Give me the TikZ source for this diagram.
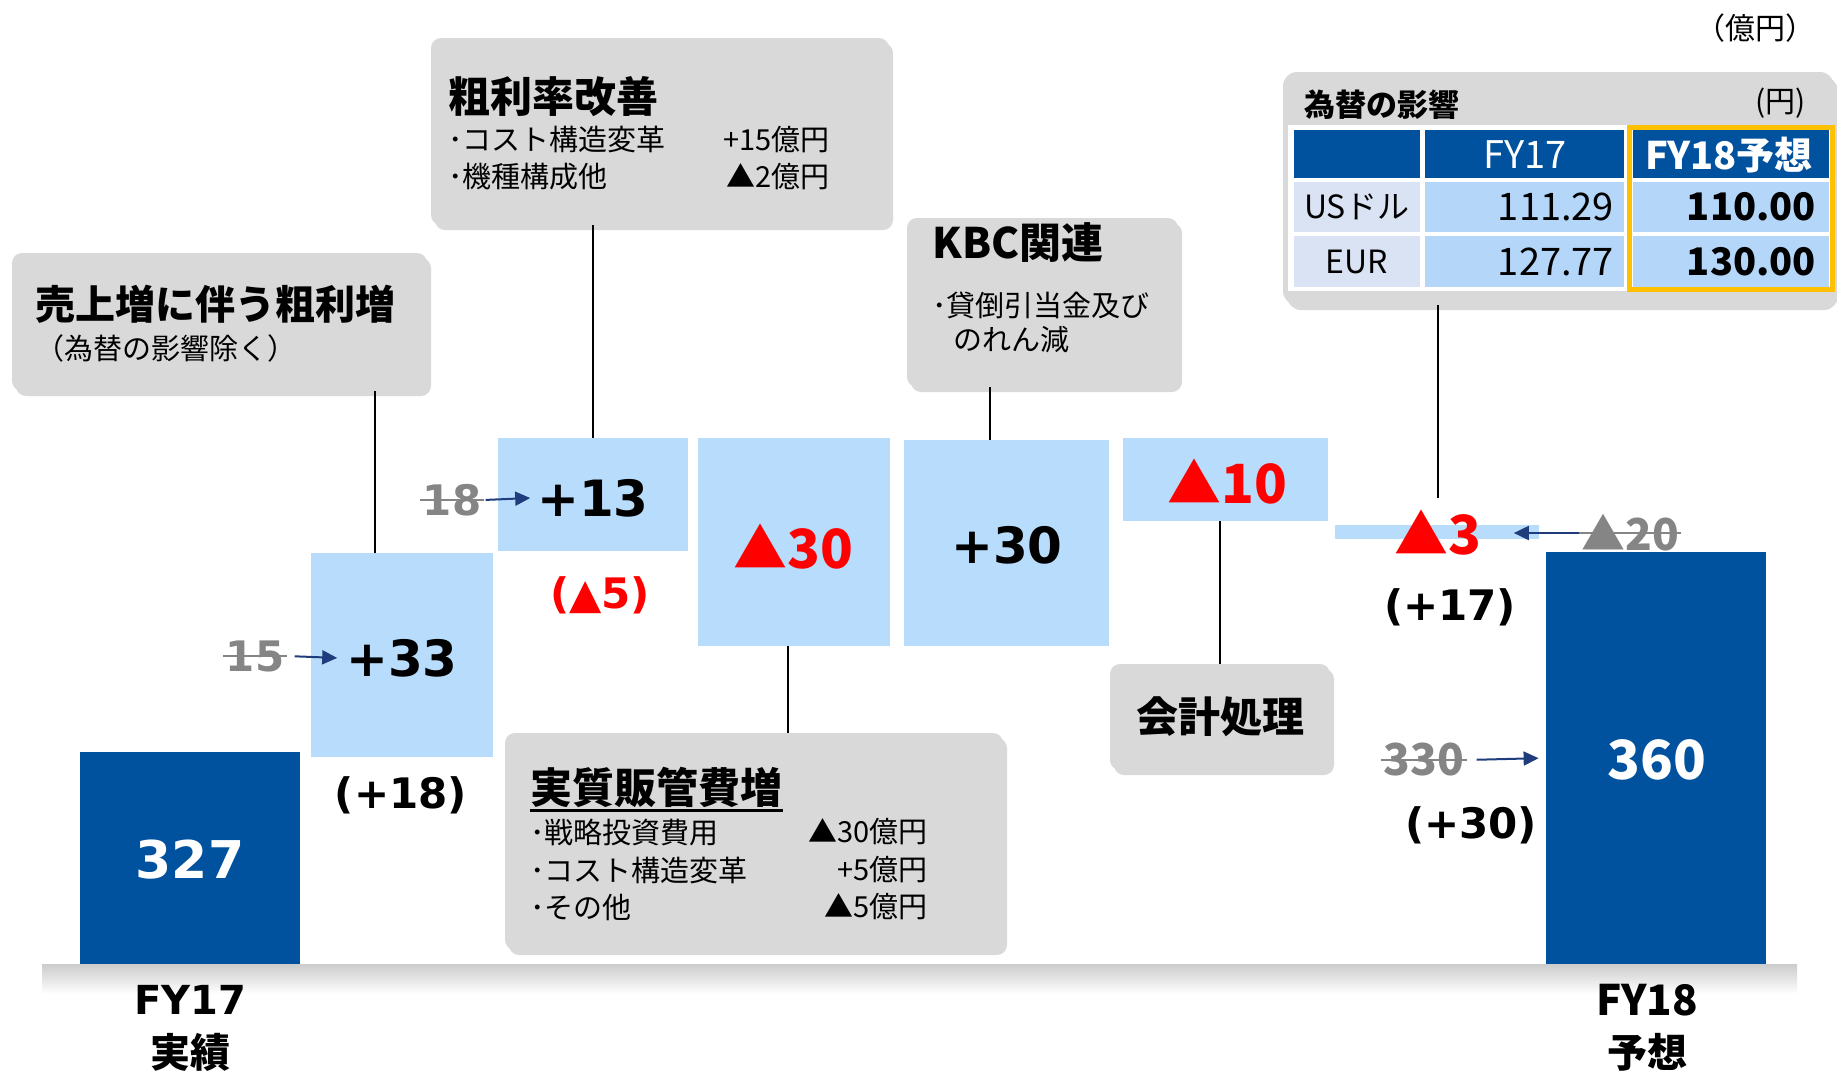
\documentclass[tikz,border=0pt]{standalone}
\usepackage{fontspec}
\setmainfont{Noto Sans CJK JP}
\newfontfamily\verd{DejaVu Sans}
\usetikzlibrary{arrows.meta,shadows,calc}
\definecolor{db}{HTML}{00519E}
\definecolor{lb}{HTML}{B8DCFB}
\definecolor{bgray}{HTML}{D9D9D9}
\definecolor{tgray}{HTML}{858585}
\definecolor{navy}{HTML}{1F3D7C}
\definecolor{pale}{HTML}{DAE3F3}
\definecolor{tb}{HTML}{B4D6F8}
\definecolor{ora}{HTML}{FFC000}
\definecolor{rd}{HTML}{FF0000}
\newcommand\fsz[1]{\fontsize{#1}{#1}\selectfont}

\begin{document}
\begin{tikzpicture}[x=0.5pt,y=-0.5pt,
	total/.style={fill=db, text=white, inner sep=0pt, minimum width=110pt},
	stepbar/.style={fill=lb, inner sep=0pt},
	callout/.style={fill=bgray, rounded corners=5pt, inner sep=0pt,
		drop shadow={shadow xshift=2pt, shadow yshift=-2.5pt, opacity=0.3}},
	conn/.style={line width=0.75pt},
	tip/.style={draw=navy, line width=1pt, -{Triangle[length=7.5pt,width=7pt]}},
	struck/.style={draw=tgray, line width=1.1pt},
	oldnum/.style={text=tgray, inner sep=1pt},
	ttl/.style={anchor=west, inner sep=0pt, font=\bfseries\fsz{21}},
	body/.style={anchor=west, inner sep=0pt, font=\fsz{14.5}},
	amt/.style={anchor=east, inner sep=0pt, font=\fsz{14.5}}]
	\useasboundingbox (0,0) rectangle (1837,1072);
	% base line
	\shade[top color=black!20, bottom color=white] (42,964) rectangle (1797,994);
	
	% bars
	\node[total, minimum height=106pt] (fy17) at (190,858) {};
	\node[stepbar, minimum width=91pt, minimum height=102pt] (b33) at (402,655) {};
	\node[stepbar, minimum width=95pt, minimum height=56.5pt] (b13) at (593,494.5) {};
	\node[stepbar, minimum width=96pt, minimum height=104pt] (b30m) at (794,542) {};
	\node[stepbar, minimum width=102.5pt, minimum height=103pt] (b30p) at (1006.5,543) {};
	\node[stepbar, minimum width=102.5pt, minimum height=41.5pt] (b10) at (1225.5,479.5) {};
	\node[stepbar, minimum width=102pt, minimum height=7pt] (b3) at (1437,532) {};
	\node[total, minimum height=206pt] (fy18) at (1656,758) {};
	
	% values
	\node[text=white, font=\verd\bfseries\fsz{26}] (n327) at (190,860) {327};
	\node[font=\verd\bfseries\fsz{25}] (n33) at (402,658) {+33};
	\node[font=\verd\bfseries\fsz{25}] (n13) at (593,498) {+13};
	\node[text=rd, font=\bfseries\fsz{27}] (n30m) at (793,547) {▲30};
	\node[font=\verd\bfseries\fsz{25}] (n30p) at (1007,545) {+30};
	\node[text=rd, font=\bfseries\fsz{27}] (n10) at (1227,482) {▲10};
	\node[text=rd, font=\bfseries\fsz{27}, inner sep=2pt] (n3) at (1438,533) {▲3};
	\node[text=white, font=\bfseries\fsz{27}] (n360) at (1657,760) {360};
	
	\node[font=\verd\bfseries\fsz{21}] (c18) at (401,795) {(+18)};
	\node[text=rd, font=\verd\bfseries\fsz{21}] (c5) at (600,595) {(▲5)};
	\node[font=\verd\bfseries\fsz{21}] (c17) at (1450,607) {(+17)};
	\node[font=\verd\bfseries\fsz{21}] (c30) at (1471,825) {(+30)};
	
	% old values
	\node[oldnum, font=\verd\bfseries\fsz{21}] (o15) at (255,656) {15};
	\node[oldnum, font=\verd\bfseries\fsz{21}] (o18) at (452,500) {18};
	\node[oldnum, font=\bfseries\fsz{22}] (o20) at (1630,533) {▲20};
	\node[oldnum, font=\bfseries\fsz{22}] (o330) at (1424,760) {330};
	\foreach \o in {o15,o18,o20,o330}
	\draw[struck] (\o.west) -- (\o.east);
	\draw[tip, shorten <=4pt, shorten >=1pt] (o15.east) -- (n33.west);
	\draw[tip, shorten <=1pt] (o18.east) -- (n13.west);
	\draw[tip, shorten >=14pt] (o20.west) -- (n3.east);
	\draw[tip, shorten <=5pt, shorten >=3.5pt] (o330.east) -- (fy18.west);
	
	% labels
	\node[font=\verd\bfseries\fsz{20}] (l17) at (190,1000) {FY17};
	\node[font=\bfseries\fsz{20}] (l17b) at (190,1052) {実績};
	\node[font=\bfseries\fsz{21}] (l18) at (1647,1000) {FY18};
	\node[font=\bfseries\fsz{20}] (l18b) at (1647,1052) {予想};
	\node[font=\fsz{15}] (unit) at (1755,28) {（億円）};
	
	% callouts
	\node[callout, minimum width=207.5pt, minimum height=69pt] (boxA) at (219.5,322) {};
	\node[ttl, font=\bfseries\fsz{20}] (tA) at (35,304) {売上増に伴う粗利増};
	\node[body] (sA) at (35,348) {（為替の影響除く）};
	
	\node[callout, minimum width=229pt, minimum height=93.5pt] (boxB) at (660,131.5) {};
	\node[ttl] (tB) at (448,97) {粗利率改善};
	\node[body] (bB1) at (448,140) {･コスト構造変革};
	\node[amt] (aB1) at (830,140) {+15億円};
	\node[body] (bB2) at (448,177) {･機種構成他};
	\node[amt] (aB2) at (830,177) {▲2億円};
	
	\node[callout, minimum width=135.5pt, minimum height=84.5pt] (boxK) at (1042.5,302.5) {};
	\node[ttl] (tK) at (932,243) {KBC関連};
	\node[body] (bK1) at (932,305) {･貸倒引当金及び};
	\node[body] (bK2) at (953,340) {のれん減};
	
	\node[callout, minimum width=249pt, minimum height=108.5pt] (boxS) at (754,841.5) {};
	\node[ttl] (tS) at (530,787) {実質販管費増};
	\draw[line width=1.3pt] ($(tS.south west)+(0,3)$) -- ($(tS.south east)+(0,3)$);
	\node[body] (bS1) at (530,832) {･戦略投資費用};
	\node[amt] (aS1) at (928,832) {▲30億円};
	\node[body] (bS2) at (530,870) {･コスト構造変革};
	\node[amt] (aS2) at (928,870) {+5億円};
	\node[body] (bS3) at (530,907) {･その他};
	\node[amt] (aS3) at (928,907) {▲5億円};
	
	\node[callout, minimum width=110pt, minimum height=53pt, font=\bfseries\fsz{21}] (boxC) at (1220,717) {会計処理};
	
	% fx panel
	\node[callout, rounded corners=7pt, minimum width=275.5pt, minimum height=116.5pt] (fx) at (1558.5,188.5) {};
	\node[anchor=west, font=\bfseries\fsz{15.5}] (fxt) at (1297,105) {為替の影響};
	\node[anchor=east, font=\fsz{15}] (yen) at (1813,103) {(円)};
	\fill[white] (1288,125) rectangle (1831,291);
	\fill[db] (1294,130) rectangle (1420,178);
	\fill[db] (1425,130) rectangle (1624,178);
	\fill[db] (1633,130) rectangle (1829,178);
	\foreach \ya/\yb in {182/232, 236/287} {
		\fill[pale] (1294,\ya) rectangle (1420,\yb);
		\fill[tb] (1425,\ya) rectangle (1624,\yb);
		\fill[tb] (1633,\ya) rectangle (1829,\yb);
	}
	\draw[ora, line width=2.5pt] (1629.5,127.5) rectangle (1832.5,289.5);
	\node[text=white, font=\fsz{19}] (h17) at (1525,155) {FY17};
	\node[text=white, font=\bfseries\fsz{19}] (h18) at (1729,155) {FY18予想};
	\node[font=\fsz{16}] (usd) at (1357,207) {USドル};
	\node[font=\fsz{16}] (eur) at (1357,262) {EUR};
	\node[anchor=east, font=\fsz{19}] (u17) at (1621,207) {111.29};
	\node[anchor=east, font=\fsz{19}] (e17) at (1621,262) {127.77};
	\node[anchor=east, font=\bfseries\fsz{19}] (u18) at (1823,207) {110.00};
	\node[anchor=east, font=\bfseries\fsz{19}] (e18) at (1823,262) {130.00};
	
	% connectors
	\coordinate (kA) at (375,0);
	\coordinate (kK) at (990,0);
	\coordinate (kS) at (788,0);
	\draw[conn] (boxA.south -| kA) -- (b33.north -| kA);
	\draw[conn] (boxB.south -| b13.north) -- (b13.north);
	\draw[conn] (boxK.south -| kK) -- (b30p.north -| kK);
	\draw[conn] (b30m.south -| kS) -- (boxS.north -| kS);
	\draw[conn] (b10.south -| boxC.north) -- (boxC.north);
	\draw[conn, shorten >=4pt] (fx.south -| n3.north) -- (n3.north);
\end{tikzpicture}
\end{document}
